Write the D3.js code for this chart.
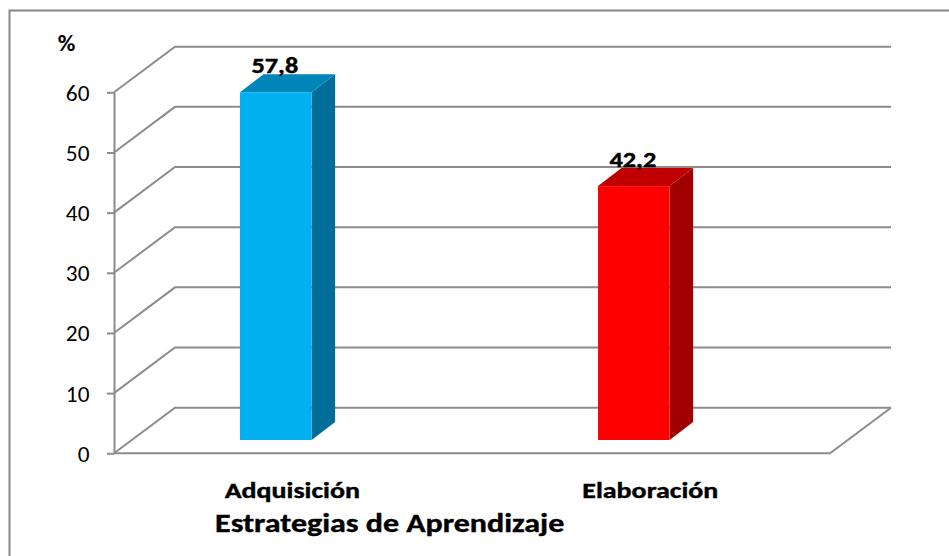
<!DOCTYPE html>
<html>
<head>
<meta charset="utf-8">
<script src="https://cdn.jsdelivr.net/npm/d3@7"></script>
<style>
  body { margin: 0; background: #fff; }
  text { font-family: Carlito, Lato, "Open Sans", sans-serif; fill: #000; }
</style>
</head>
<body>
<script>
// chart data
let categories = ["Adquisición", "Elaboración"];
let values = [57.8, 42.2];
let valueLabels = ["57,8", "42,2"];
let yTicks = [0, 10, 20, 30, 40, 50, 60];
let faceColors = ["#00b0f0", "#ff0000"];
let topColors = ["#0085b8", "#c00000"];
let sideColors = ["#006e98", "#a00000"];

let width = 949;
let height = 556;

let svg = d3.select("body").append("svg")
    .attr("width", width)
    .attr("height", height);

// outer chart border (right and bottom edges fall outside the picture)
svg.append("rect")
  .attr("x", 9.5)
  .attr("y", 10.5)
  .attr("width", 1000)
  .attr("height", 1000)
  .attr("fill", "none")
  .attr("stroke", "#878787")
  .attr("stroke-width", 2);

let y = d3.scaleLinear().domain([0, 60]).range([453.3, 92.3]);

let x = d3.scaleBand()
    .domain(categories)
    .range([114, 830])
    .paddingInner(0.8)
    .paddingOuter(0.4)
    .align(0.44);

// depth of the floor/wall and of the bars, in screen pixels
let wallDx = 61, wallDy = -45.6;
let faceDx = 0, faceDy = -13.3;
let barDx = 23.5, barDy = -18;

let gridColor = "#8c8c8c";
let grid = svg.append("g")
    .attr("fill", "none")
    .attr("stroke", gridColor)
    .attr("stroke-width", 2);

// back wall lines + left wall diagonals
yTicks.forEach(function(t) {
  let yf = y(t);
  grid.append("path")
    .attr("d", "M" + 114 + "," + yf + "L" + (114 + wallDx) + "," + (yf + wallDy) +
               "L" + (830 + wallDx) + "," + (yf + wallDy));
});

// floor front edge + right diagonal
grid.append("path")
  .attr("d", "M114," + y(0) + "L830," + y(0) + "L" + (830 + wallDx) + "," + (y(0) + wallDy));

// front vertical axis with ticks
let axis = d3.axisLeft(y)
    .tickValues(yTicks)
    .tickSize(7)
    .tickPadding(17)
    .tickSizeOuter(0);

let axisG = svg.append("g")
    .attr("transform", "translate(114,0)")
    .call(axis);

axisG.select(".domain").attr("stroke", gridColor).attr("stroke-width", 2);
axisG.selectAll(".tick line").attr("stroke", gridColor).attr("stroke-width", 2);
axisG.selectAll(".tick text")
  .attr("x", 0)
  .attr("transform", "translate(-24.5,0) scale(1.06,1)")
  .attr("font-size", 22)
  .attr("dy", "0.36em")
  .style("font-family", "Carlito, Lato, sans-serif");

// bars as 3d prisms
let bars = svg.append("g")
    .selectAll("g")
    .data(categories)
    .enter().append("g");

function pts(arr) {
  return arr.map(p => p.join(",")).join(" ");
}

bars.append("polygon")
  .attr("fill", (d, i) => sideColors[i])
  .attr("points", function(d, i) {
    let x1 = x(d) + x.bandwidth() + faceDx;
    let yt = y(values[i]) + faceDy, yb = y(0) + faceDy;
    return pts([[x1, yt], [x1 + barDx, yt + barDy], [x1 + barDx, yb + barDy], [x1, yb]]);
  });

bars.append("polygon")
  .attr("fill", (d, i) => topColors[i])
  .attr("points", function(d, i) {
    let x0 = x(d) + faceDx, x1 = x0 + x.bandwidth();
    let yt = y(values[i]) + faceDy;
    return pts([[x0, yt], [x0 + barDx, yt + barDy], [x1 + barDx, yt + barDy], [x1, yt]]);
  });

bars.append("rect")
  .attr("fill", (d, i) => faceColors[i])
  .attr("x", d => x(d) + faceDx)
  .attr("y", (d, i) => y(values[i]) + faceDy)
  .attr("width", x.bandwidth())
  .attr("height", (d, i) => y(0) - y(values[i]));

// value labels
bars.append("text")
  .attr("transform", (d, i) => "translate(" + (x(d) + x.bandwidth() / 2 - 1) + "," +
        (y(values[i]) + faceDy + barDy - 1.5) + ") scale(1.17,1)")
  .attr("text-anchor", "middle")
  .attr("font-size", 22.5)
  .attr("font-weight", "bold")
  .attr("stroke", "#000")
  .attr("stroke-width", 0.4)
  .text((d, i) => valueLabels[i]);

// category labels
svg.append("g")
  .selectAll("text")
  .data(categories)
  .enter().append("text")
  .attr("transform", d => "translate(" + (x(d) + x.bandwidth() / 2 + 16.5) + ",497.5) scale(1.3,1)")
  .attr("text-anchor", "middle")
  .attr("font-size", 21.5)
  .attr("font-weight", "bold")
  .attr("stroke", "#000")
  .attr("stroke-width", 0.4)
  .text(d => d);

// axis titles
svg.append("text")
  .attr("transform", "translate(389.7,531.8) scale(1.23,1)")
  .attr("text-anchor", "middle")
  .attr("font-size", 26)
  .attr("font-weight", "bold")
  .attr("stroke", "#000")
  .attr("stroke-width", 0.4)
  .text("Estrategias de Aprendizaje");

svg.append("text")
  .attr("transform", "translate(66.5,51) scale(1.05,1)")
  .attr("text-anchor", "middle")
  .attr("font-size", 23)
  .attr("font-weight", "bold")
  .text("%");
</script>
</body>
</html>
